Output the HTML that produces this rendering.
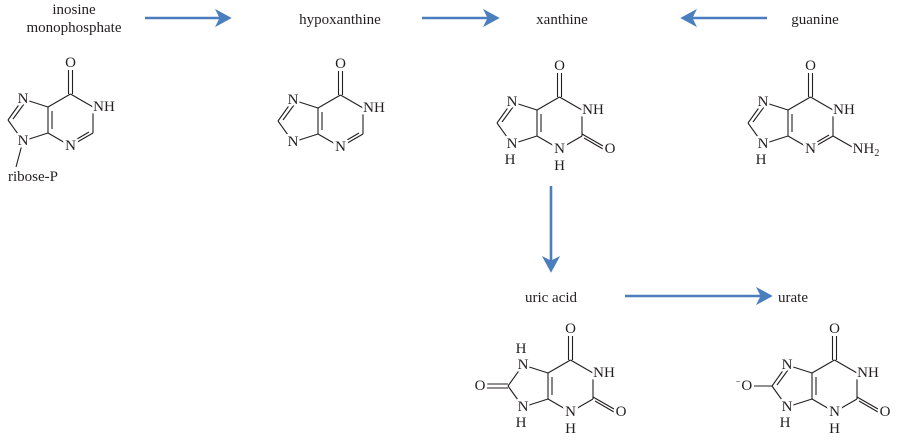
<!DOCTYPE html>
<html><head><meta charset="utf-8"><style>
html,body{margin:0;padding:0;background:#fff;}
svg{display:block;}
text{font-family:"Liberation Serif",serif;font-size:15px;fill:#231f20;}
.a{stroke:white;stroke-width:5;paint-order:stroke;stroke-linejoin:round;}
.s{font-size:10px;}
</style></head><body>
<svg width="898" height="447" viewBox="0 0 898 447" xmlns="http://www.w3.org/2000/svg">
<defs>
<g id="sk" stroke="#231f20" stroke-width="1.1" fill="none">
<line x1="0" y1="0" x2="22.5" y2="-13"/>
<line x1="22.5" y1="-13" x2="45" y2="0"/>
<line x1="45" y1="0" x2="45" y2="26"/>
<line x1="45" y1="26" x2="22.5" y2="39"/>
<line x1="22.5" y1="39" x2="0" y2="26"/>
<line x1="0" y1="26" x2="0" y2="0"/>
<line x1="4" y1="4" x2="4" y2="22"/>
<line x1="0" y1="0" x2="-25" y2="-8"/>
<line x1="-25" y1="-8" x2="-40" y2="13"/>
<line x1="-40" y1="13" x2="-25" y2="34"/>
<line x1="-25" y1="34" x2="0" y2="26"/>
<line x1="20.5" y1="-13" x2="20.5" y2="-37"/>
<line x1="24.5" y1="-13" x2="24.5" y2="-37"/>
</g>
<line id="d78" x1="-24" y1="-3" x2="-35" y2="12" stroke="#231f20" stroke-width="1.1"/>
<line id="d23" x1="41" y1="25" x2="24" y2="35" stroke="#231f20" stroke-width="1.1"/>
<g id="o2" stroke="#231f20" stroke-width="1.1"><line x1="45" y1="24" x2="66" y2="36"/><line x1="47" y1="28" x2="66" y2="39"/></g>
</defs>
<g stroke="#4a7ebf" stroke-width="2.6" fill="#4a7ebf">
<line x1="145" y1="18" x2="222" y2="18"/><polygon points="229,18 218,12 221,18 218,24"/>
<line x1="422" y1="18" x2="490" y2="18"/><polygon points="497,18 486,12 489,18 486,24"/>
<line x1="767" y1="18" x2="690" y2="18"/><polygon points="683,18 694,12 691,18 694,24"/>
<line x1="551" y1="186" x2="551" y2="263"/><polygon points="551,270 545,259 551,262 557,259"/>
<line x1="625" y1="296" x2="763" y2="296"/><polygon points="770,296 759,290 762,296 759,302"/>
</g>
<g text-anchor="middle">
<text x="74" y="14">inosine</text><text x="74" y="32">monophosphate</text>
<text x="340" y="24">hypoxanthine</text>
<text x="562" y="24">xanthine</text>
<text x="815" y="24">guanine</text>
<text x="551" y="302">uric acid</text>
<text x="793" y="302">urate</text>
</g>
<!-- inosine -->
<g transform="translate(48,107)">
<use href="#sk"/><use href="#d78"/><use href="#d23"/>
<line x1="-25" y1="34" x2="-32" y2="60" stroke="#231f20" stroke-width="1.1"/>
<g text-anchor="middle" dominant-baseline="central">
<text class="a" x="22.5" y="-44">O</text>
<text class="a" x="-25" y="-8">N</text>
<text class="a" x="-25" y="34">N</text>
<text class="a" x="22.5" y="39">N</text>
<text class="a" x="56" y="0">NH</text>
<text x="-15" y="70">ribose-P</text>
</g></g>
<!-- hypoxanthine -->
<g transform="translate(318,108)">
<use href="#sk"/><use href="#d78"/><use href="#d23"/>
<g text-anchor="middle" dominant-baseline="central">
<text class="a" x="22.5" y="-44">O</text>
<text class="a" x="-25" y="-8">N</text>
<text class="a" x="-25" y="34">N</text>
<text class="a" x="22.5" y="39">N</text>
<text class="a" x="56" y="0">NH</text>
</g></g>
<!-- xanthine -->
<g transform="translate(537,110)">
<use href="#sk"/><use href="#d78"/><use href="#o2"/>
<g text-anchor="middle" dominant-baseline="central">
<text class="a" x="22.5" y="-44">O</text>
<text class="a" x="-25" y="-8">N</text>
<text class="a" x="-25" y="34">N</text><text x="-27" y="50">H</text>
<text class="a" x="22.5" y="39">N</text><text x="22.5" y="56">H</text>
<text class="a" x="56" y="0">NH</text>
<text class="a" x="73" y="39">O</text>
</g></g>
<!-- guanine -->
<g transform="translate(788,110)">
<use href="#sk"/><use href="#d78"/><use href="#d23"/>
<line x1="45" y1="26" x2="66" y2="38" stroke="#231f20" stroke-width="1.1"/>
<g text-anchor="middle" dominant-baseline="central">
<text class="a" x="22.5" y="-44">O</text>
<text class="a" x="-25" y="-8">N</text>
<text class="a" x="-25" y="34">N</text><text x="-27" y="50">H</text>
<text class="a" x="22.5" y="39">N</text>
<text class="a" x="56" y="0">NH</text>
<text class="a" x="78" y="39">NH<tspan class="s" dy="4">2</tspan></text>
</g></g>
<!-- uric acid -->
<g transform="translate(548,373)">
<use href="#sk"/><use href="#o2"/>
<g stroke="#231f20" stroke-width="1.1"><line x1="-40" y1="11" x2="-62" y2="11"/><line x1="-40" y1="15" x2="-62" y2="15"/></g>
<g text-anchor="middle" dominant-baseline="central">
<text class="a" x="22.5" y="-44">O</text>
<text class="a" x="-25" y="-8">N</text><text x="-27" y="-24">H</text>
<text class="a" x="-25" y="34">N</text><text x="-27" y="50">H</text>
<text class="a" x="22.5" y="39">N</text><text x="22.5" y="56">H</text>
<text class="a" x="56" y="0">NH</text>
<text class="a" x="73" y="39">O</text>
<text class="a" x="-68" y="13">O</text>
</g></g>
<!-- urate -->
<g transform="translate(812,373)">
<use href="#sk"/><use href="#d78"/><use href="#o2"/>
<line x1="-40" y1="13" x2="-62" y2="13" stroke="#231f20" stroke-width="1.1"/>
<g text-anchor="middle" dominant-baseline="central">
<text class="a" x="22.5" y="-44">O</text>
<text class="a" x="-25" y="-8">N</text>
<text class="a" x="-25" y="34">N</text><text x="-27" y="50">H</text>
<text class="a" x="22.5" y="39">N</text><text x="22.5" y="56">H</text>
<text class="a" x="56" y="0">NH</text>
<text class="a" x="73" y="39">O</text>
<text class="a" x="-68" y="13"><tspan class="s" dy="-4">−</tspan><tspan dy="4">O</tspan></text>
</g></g>
</svg>
</body></html>
